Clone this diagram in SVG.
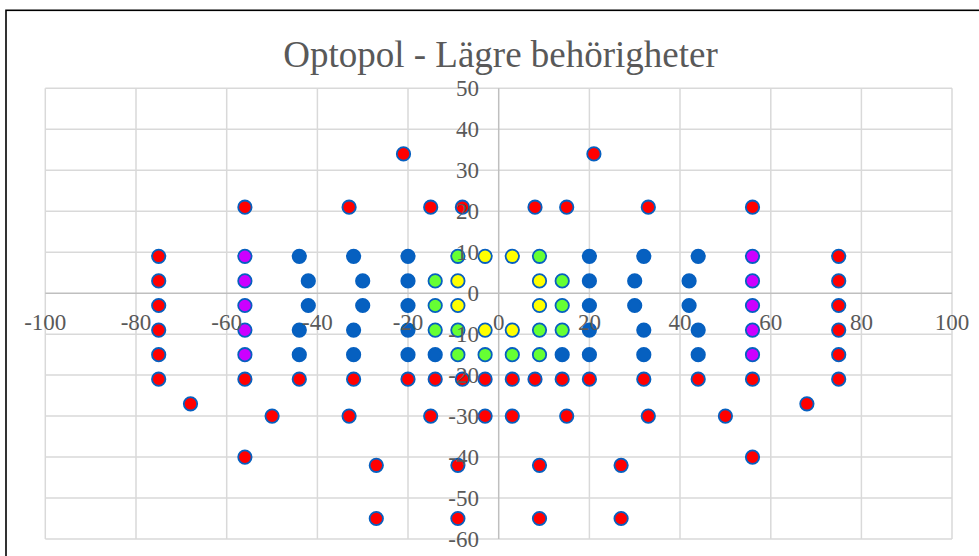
<svg xmlns="http://www.w3.org/2000/svg" width="979" height="556" viewBox="0 0 979 556">
<style>
.grid{stroke:#D9D9D9;stroke-width:1.5;fill:none}
.axis{stroke:#BFBFBF;stroke-width:1.5;fill:none}
.lbl{font-size:23px;fill:#595959}
.yl{text-anchor:end}
.xl{text-anchor:middle}
.title{font-size:37px;fill:#595959;text-anchor:middle}
circle{stroke:#0660C0;stroke-width:1.8}
.r{fill:#FF0000}
.p{fill:#CC00FF}
.b{fill:#0660C0}
.g{fill:#66FF33}
.y{fill:#FFFF00}
</style>
<rect x="0" y="0" width="979" height="556" fill="#FFFFFF"/>
<rect x="6" y="10.3" width="1000" height="600" fill="#FFFFFF" stroke="#000000" stroke-width="1.6"/>
<text id="title" class="title" font-family="'Liberation Serif', 'DejaVu Serif', serif" x="500.5" y="67">Optopol - Lägre behörigheter</text>
<g id="gridlines">
<path class="grid" d="M45.3,88.3H952 M45.3,129.3H952 M45.3,170.3H952 M45.3,211.3H952 M45.3,252.2H952 M45.3,334.2H952 M45.3,375.1H952 M45.3,416.1H952 M45.3,457.1H952 M45.3,498.1H952 M45.3,539.1H952"/>
<path class="grid" d="M45.3,88.3V539.1 M136,88.3V539.1 M226.7,88.3V539.1 M317.4,88.3V539.1 M408,88.3V539.1 M589.4,88.3V539.1 M680,88.3V539.1 M770.8,88.3V539.1 M861.4,88.3V539.1 M952,88.3V539.1"/>
</g>
<g id="axes">
<path class="axis" d="M45.3,293.2H952 M498.7,88.3V539.1"/>
</g>
<g id="series-red">
<circle class="r" cx="403.5" cy="153.9" r="6.7"/><circle class="r" cx="593.9" cy="153.9" r="6.7"/>
<circle class="r" cx="244.9" cy="207.2" r="6.7"/><circle class="r" cx="349.1" cy="207.2" r="6.7"/><circle class="r" cx="430.7" cy="207.2" r="6.7"/><circle class="r" cx="462.4" cy="207.2" r="6.7"/><circle class="r" cx="535" cy="207.2" r="6.7"/><circle class="r" cx="566.7" cy="207.2" r="6.7"/><circle class="r" cx="648.3" cy="207.2" r="6.7"/><circle class="r" cx="752.5" cy="207.2" r="6.7"/>
<circle class="r" cx="158.7" cy="256.3" r="6.7"/><circle class="r" cx="838.7" cy="256.3" r="6.7"/>
<circle class="r" cx="158.7" cy="280.9" r="6.7"/><circle class="r" cx="838.7" cy="280.9" r="6.7"/>
<circle class="r" cx="158.7" cy="305.5" r="6.7"/><circle class="r" cx="838.7" cy="305.5" r="6.7"/>
<circle class="r" cx="158.7" cy="330.1" r="6.7"/><circle class="r" cx="838.7" cy="330.1" r="6.7"/>
<circle class="r" cx="158.7" cy="354.7" r="6.7"/><circle class="r" cx="838.7" cy="354.7" r="6.7"/>
<circle class="r" cx="158.7" cy="379.2" r="6.7"/><circle class="r" cx="244.9" cy="379.2" r="6.7"/><circle class="r" cx="299.3" cy="379.2" r="6.7"/><circle class="r" cx="353.6" cy="379.2" r="6.7"/><circle class="r" cx="408" cy="379.2" r="6.7"/><circle class="r" cx="435.2" cy="379.2" r="6.7"/><circle class="r" cx="462.4" cy="379.2" r="6.7"/><circle class="r" cx="485.1" cy="379.2" r="6.7"/><circle class="r" cx="512.3" cy="379.2" r="6.7"/><circle class="r" cx="535" cy="379.2" r="6.7"/><circle class="r" cx="562.2" cy="379.2" r="6.7"/><circle class="r" cx="589.4" cy="379.2" r="6.7"/><circle class="r" cx="643.8" cy="379.2" r="6.7"/><circle class="r" cx="698.2" cy="379.2" r="6.7"/><circle class="r" cx="752.5" cy="379.2" r="6.7"/><circle class="r" cx="838.7" cy="379.2" r="6.7"/>
<circle class="r" cx="190.5" cy="403.8" r="6.7"/><circle class="r" cx="806.9" cy="403.8" r="6.7"/>
<circle class="r" cx="272.1" cy="416.1" r="6.7"/><circle class="r" cx="349.1" cy="416.1" r="6.7"/><circle class="r" cx="430.7" cy="416.1" r="6.7"/><circle class="r" cx="485.1" cy="416.1" r="6.7"/><circle class="r" cx="512.3" cy="416.1" r="6.7"/><circle class="r" cx="566.7" cy="416.1" r="6.7"/><circle class="r" cx="648.3" cy="416.1" r="6.7"/><circle class="r" cx="725.4" cy="416.1" r="6.7"/>
<circle class="r" cx="244.9" cy="457.1" r="6.7"/><circle class="r" cx="752.5" cy="457.1" r="6.7"/>
<circle class="r" cx="376.3" cy="465.3" r="6.7"/><circle class="r" cx="457.9" cy="465.3" r="6.7"/><circle class="r" cx="539.5" cy="465.3" r="6.7"/><circle class="r" cx="621.1" cy="465.3" r="6.7"/>
<circle class="r" cx="376.3" cy="518.5" r="6.7"/><circle class="r" cx="457.9" cy="518.5" r="6.7"/><circle class="r" cx="539.5" cy="518.5" r="6.7"/><circle class="r" cx="621.1" cy="518.5" r="6.7"/>
</g>
<g id="series-purple">
<circle class="p" cx="244.9" cy="256.3" r="6.7"/><circle class="p" cx="752.5" cy="256.3" r="6.7"/>
<circle class="p" cx="244.9" cy="280.9" r="6.7"/><circle class="p" cx="752.5" cy="280.9" r="6.7"/>
<circle class="p" cx="244.9" cy="305.5" r="6.7"/><circle class="p" cx="752.5" cy="305.5" r="6.7"/>
<circle class="p" cx="244.9" cy="330.1" r="6.7"/><circle class="p" cx="752.5" cy="330.1" r="6.7"/>
<circle class="p" cx="244.9" cy="354.7" r="6.7"/><circle class="p" cx="752.5" cy="354.7" r="6.7"/>
</g>
<g id="series-blue">
<circle class="b" cx="299.3" cy="256.3" r="6.7"/><circle class="b" cx="353.6" cy="256.3" r="6.7"/><circle class="b" cx="408" cy="256.3" r="6.7"/><circle class="b" cx="589.4" cy="256.3" r="6.7"/><circle class="b" cx="643.8" cy="256.3" r="6.7"/><circle class="b" cx="698.2" cy="256.3" r="6.7"/>
<circle class="b" cx="308.3" cy="280.9" r="6.7"/><circle class="b" cx="362.7" cy="280.9" r="6.7"/><circle class="b" cx="408" cy="280.9" r="6.7"/><circle class="b" cx="589.4" cy="280.9" r="6.7"/><circle class="b" cx="634.7" cy="280.9" r="6.7"/><circle class="b" cx="689.1" cy="280.9" r="6.7"/>
<circle class="b" cx="308.3" cy="305.5" r="6.7"/><circle class="b" cx="362.7" cy="305.5" r="6.7"/><circle class="b" cx="408" cy="305.5" r="6.7"/><circle class="b" cx="589.4" cy="305.5" r="6.7"/><circle class="b" cx="634.7" cy="305.5" r="6.7"/><circle class="b" cx="689.1" cy="305.5" r="6.7"/>
<circle class="b" cx="299.3" cy="330.1" r="6.7"/><circle class="b" cx="353.6" cy="330.1" r="6.7"/><circle class="b" cx="408" cy="330.1" r="6.7"/><circle class="b" cx="589.4" cy="330.1" r="6.7"/><circle class="b" cx="643.8" cy="330.1" r="6.7"/><circle class="b" cx="698.2" cy="330.1" r="6.7"/>
<circle class="b" cx="299.3" cy="354.7" r="6.7"/><circle class="b" cx="353.6" cy="354.7" r="6.7"/><circle class="b" cx="408" cy="354.7" r="6.7"/><circle class="b" cx="435.2" cy="354.7" r="6.7"/><circle class="b" cx="562.2" cy="354.7" r="6.7"/><circle class="b" cx="589.4" cy="354.7" r="6.7"/><circle class="b" cx="643.8" cy="354.7" r="6.7"/><circle class="b" cx="698.2" cy="354.7" r="6.7"/>
</g>
<g id="series-green">
<circle class="g" cx="457.9" cy="256.3" r="6.7"/><circle class="g" cx="539.5" cy="256.3" r="6.7"/>
<circle class="g" cx="435.2" cy="280.9" r="6.7"/><circle class="g" cx="562.2" cy="280.9" r="6.7"/>
<circle class="g" cx="435.2" cy="305.5" r="6.7"/><circle class="g" cx="562.2" cy="305.5" r="6.7"/>
<circle class="g" cx="435.2" cy="330.1" r="6.7"/><circle class="g" cx="457.9" cy="330.1" r="6.7"/><circle class="g" cx="539.5" cy="330.1" r="6.7"/><circle class="g" cx="562.2" cy="330.1" r="6.7"/>
<circle class="g" cx="457.9" cy="354.7" r="6.7"/><circle class="g" cx="485.1" cy="354.7" r="6.7"/><circle class="g" cx="512.3" cy="354.7" r="6.7"/><circle class="g" cx="539.5" cy="354.7" r="6.7"/>
</g>
<g id="series-yellow">
<circle class="y" cx="485.1" cy="256.3" r="6.7"/><circle class="y" cx="512.3" cy="256.3" r="6.7"/>
<circle class="y" cx="457.9" cy="280.9" r="6.7"/><circle class="y" cx="539.5" cy="280.9" r="6.7"/>
<circle class="y" cx="457.9" cy="305.5" r="6.7"/><circle class="y" cx="539.5" cy="305.5" r="6.7"/>
<circle class="y" cx="485.1" cy="330.1" r="6.7"/><circle class="y" cx="512.3" cy="330.1" r="6.7"/>
</g>
<g id="y-axis-labels" class="lbl yl" font-family="'Liberation Serif', 'DejaVu Serif', serif">
<text x="479" y="96">50</text>
<text x="479" y="137">40</text>
<text x="479" y="178">30</text>
<text x="479" y="219">20</text>
<text x="479" y="260">10</text>
<text x="479" y="301">0</text>
<text x="479" y="342">-10</text>
<text x="479" y="383">-20</text>
<text x="479" y="424">-30</text>
<text x="479" y="465">-40</text>
<text x="479" y="506">-50</text>
<text x="479" y="547">-60</text>
</g>
<g id="x-axis-labels" class="lbl xl" font-family="'Liberation Serif', 'DejaVu Serif', serif">
<text x="45.3" y="329.5">-100</text>
<text x="136" y="329.5">-80</text>
<text x="226.7" y="329.5">-60</text>
<text x="317.4" y="329.5">-40</text>
<text x="408" y="329.5">-20</text>
<text x="498.7" y="329.5">0</text>
<text x="589.4" y="329.5">20</text>
<text x="680" y="329.5">40</text>
<text x="770.8" y="329.5">60</text>
<text x="861.4" y="329.5">80</text>
<text x="952" y="329.5">100</text>
</g>
</svg>
